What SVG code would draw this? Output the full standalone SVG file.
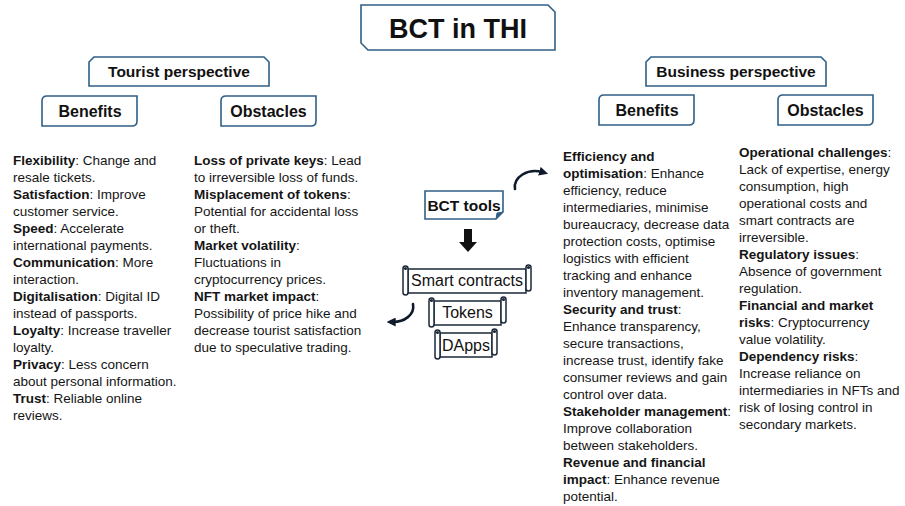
<svg xmlns="http://www.w3.org/2000/svg" width="905" height="506" viewBox="0 0 905 506">
  <defs>
    <style>
      .frame { fill: #ffffff; stroke: #2f5f86; stroke-width: 1.6; }
      .scroll { fill: #ffffff; stroke: #1b2838; stroke-width: 1.5; }
      .head { font-family: "Liberation Sans", Arial, sans-serif; font-weight: bold; fill: #111111; text-anchor: middle; }
      .tool { font-family: "Liberation Sans", Arial, sans-serif; fill: #111111; text-anchor: middle; font-size: 16px; }
      .body { font-family: "Liberation Sans", Arial, sans-serif; font-size: 13.5px; fill: #151515; }
      .b { font-weight: bold; }
      .curve { fill: none; stroke: #0f1b2a; stroke-width: 2.6; stroke-linecap: round; }
    </style>
    <marker id="tip" viewBox="0 0 10 10" refX="3" refY="5" markerWidth="9" markerHeight="9" markerUnits="userSpaceOnUse" orient="auto">
      <path d="M0,0 L10,5 L0,10 Z" fill="#0f1b2a"/>
    </marker>
  </defs>

  <!-- title -->
  <g id="title">
    <path class="frame" d="M361,5 H548 L555,12 V50 H368 L361,43 Z"/>
    <text class="head" x="458" y="37.5" font-size="27">BCT in THI</text>
  </g>

  <!-- tourist side headers -->
  <g id="tourist-perspective">
    <path class="frame" d="M94,57 H264 L269,62 V86 H89 V62 Z"/>
    <text class="head" x="179" y="77" font-size="15.5">Tourist perspective</text>
  </g>
  <g id="tourist-benefits">
    <path class="frame" d="M47,96 H137 V121 Q137,126 132,126 H42 V101 Q42,96 47,96 Z"/>
    <text class="head" x="90" y="117" font-size="16">Benefits</text>
  </g>
  <g id="tourist-obstacles">
    <path class="frame" d="M226,96 H316 V121 Q316,126 311,126 H221 V101 Q221,96 226,96 Z"/>
    <text class="head" x="268.5" y="117" font-size="16">Obstacles</text>
  </g>

  <!-- business side headers -->
  <g id="business-perspective">
    <path class="frame" d="M651,57 H821 L826,62 V86 H646 V62 Z"/>
    <text class="head" x="736" y="77" font-size="15.5">Business perspective</text>
  </g>
  <g id="business-benefits">
    <path class="frame" d="M604,95 H694 V120 Q694,125 689,125 H599 V100 Q599,95 604,95 Z"/>
    <text class="head" x="647" y="116" font-size="16">Benefits</text>
  </g>
  <g id="business-obstacles">
    <path class="frame" d="M783,95 H873 V120 Q873,125 868,125 H778 V100 Q778,95 783,95 Z"/>
    <text class="head" x="825.5" y="116" font-size="16">Obstacles</text>
  </g>

  <!-- central tools -->
  <g id="bct-tools">
    <path class="frame" d="M425,191 H503 V212 L496,219 H425 Z"/>
    <path d="M503,212 L497,213 L496,219 Z" fill="#2f5f86" stroke="#2f5f86" stroke-width="1"/>
    <text class="head" x="464" y="210.5" font-size="15.5">BCT tools</text>
  </g>

  <g id="smart-contracts">
    <rect class="scroll" x="408" y="269" width="118" height="24"/>
    <rect class="scroll" x="526" y="265" width="5" height="26" rx="2.5"/>
    <circle cx="528.5" cy="267.5" r="1.6" fill="#1b2838"/>
    <rect class="scroll" x="403" y="266" width="5" height="29" rx="2.5"/>
    <circle cx="405.5" cy="268.5" r="1.6" fill="#1b2838"/>
    <text class="tool" x="467" y="285.5">Smart contracts</text>
  </g>
  <g id="tokens">
    <rect class="scroll" x="434" y="301" width="67" height="24"/>
    <rect class="scroll" x="501" y="297" width="5" height="26" rx="2.5"/>
    <circle cx="503.5" cy="299.5" r="1.6" fill="#1b2838"/>
    <rect class="scroll" x="429" y="298" width="5" height="29" rx="2.5"/>
    <circle cx="431.5" cy="300.5" r="1.6" fill="#1b2838"/>
    <text class="tool" x="467.5" y="318">Tokens</text>
  </g>
  <g id="dapps">
    <rect class="scroll" x="440" y="333" width="52" height="24"/>
    <rect class="scroll" x="492" y="329" width="5" height="26" rx="2.5"/>
    <circle cx="494.5" cy="331.5" r="1.6" fill="#1b2838"/>
    <rect class="scroll" x="435" y="330" width="5" height="29" rx="2.5"/>
    <circle cx="437.5" cy="332.5" r="1.6" fill="#1b2838"/>
    <text class="tool" x="466" y="350.5">DApps</text>
  </g>

  <!-- connectors -->
  <g id="connectors">
    <path d="M464,229 H472 V242 H477 L468,252 L459,242 H464 Z" fill="#111111"/>
    <path class="curve" d="M515,189 C513,177 528,168 542,172" marker-end="url(#tip)"/>
    <path class="curve" d="M413,304 C415,315 404,322 393,322" marker-end="url(#tip)"/>
  </g>

  <!-- tourist benefits list -->
  <g id="tourist-benefits-list" class="body">
    <text x="13" y="165"><tspan class="b">Flexibility</tspan>: Change and</text>
    <text x="13" y="182">resale tickets.</text>
    <text x="13" y="199"><tspan class="b">Satisfaction</tspan>: Improve</text>
    <text x="13" y="216">customer service.</text>
    <text x="13" y="233"><tspan class="b">Speed</tspan>: Accelerate</text>
    <text x="13" y="250">international payments.</text>
    <text x="13" y="267"><tspan class="b">Communication</tspan>: More</text>
    <text x="13" y="284">interaction.</text>
    <text x="13" y="301"><tspan class="b">Digitalisation</tspan>: Digital ID</text>
    <text x="13" y="318">instead of passports.</text>
    <text x="13" y="335"><tspan class="b">Loyalty</tspan>: Increase traveller</text>
    <text x="13" y="352">loyalty.</text>
    <text x="13" y="369"><tspan class="b">Privacy</tspan>: Less concern</text>
    <text x="13" y="386">about personal information.</text>
    <text x="13" y="403"><tspan class="b">Trust</tspan>: Reliable online</text>
    <text x="13" y="420">reviews.</text>
  </g>

  <!-- tourist obstacles list -->
  <g id="tourist-obstacles-list" class="body">
    <text x="194" y="165"><tspan class="b">Loss of private keys</tspan>: Lead</text>
    <text x="194" y="182">to irreversible loss of funds.</text>
    <text x="194" y="199"><tspan class="b">Misplacement of tokens</tspan>:</text>
    <text x="194" y="216">Potential for accidental loss</text>
    <text x="194" y="233">or theft.</text>
    <text x="194" y="250"><tspan class="b">Market volatility</tspan>:</text>
    <text x="194" y="267">Fluctuations in</text>
    <text x="194" y="284">cryptocurrency prices.</text>
    <text x="194" y="301"><tspan class="b">NFT market impact</tspan>:</text>
    <text x="194" y="318">Possibility of price hike and</text>
    <text x="194" y="335">decrease tourist satisfaction</text>
    <text x="194" y="352">due to speculative trading.</text>
  </g>

  <!-- business benefits list -->
  <g id="business-benefits-list" class="body">
    <text x="563" y="161"><tspan class="b">Efficiency and</tspan></text>
    <text x="563" y="178"><tspan class="b">optimisation</tspan>: Enhance</text>
    <text x="563" y="195">efficiency, reduce</text>
    <text x="563" y="212">intermediaries, minimise</text>
    <text x="563" y="229">bureaucracy, decrease data</text>
    <text x="563" y="246">protection costs, optimise</text>
    <text x="563" y="263">logistics with efficient</text>
    <text x="563" y="280">tracking and enhance</text>
    <text x="563" y="297">inventory management.</text>
    <text x="563" y="314"><tspan class="b">Security and trust</tspan>:</text>
    <text x="563" y="331">Enhance transparency,</text>
    <text x="563" y="348">secure transactions,</text>
    <text x="563" y="365">increase trust, identify fake</text>
    <text x="563" y="382">consumer reviews and gain</text>
    <text x="563" y="399">control over data.</text>
    <text x="563" y="416"><tspan class="b">Stakeholder management</tspan>:</text>
    <text x="563" y="433">Improve collaboration</text>
    <text x="563" y="450">between stakeholders.</text>
    <text x="563" y="467"><tspan class="b">Revenue and financial</tspan></text>
    <text x="563" y="484"><tspan class="b">impact</tspan>: Enhance revenue</text>
    <text x="563" y="501">potential.</text>
  </g>

  <!-- business obstacles list -->
  <g id="business-obstacles-list" class="body">
    <text x="739" y="157"><tspan class="b">Operational challenges</tspan>:</text>
    <text x="739" y="174">Lack of expertise, energy</text>
    <text x="739" y="191">consumption, high</text>
    <text x="739" y="208">operational costs and</text>
    <text x="739" y="225">smart contracts are</text>
    <text x="739" y="242">irreversible.</text>
    <text x="739" y="259"><tspan class="b">Regulatory issues</tspan>:</text>
    <text x="739" y="276">Absence of government</text>
    <text x="739" y="293">regulation.</text>
    <text x="739" y="310"><tspan class="b">Financial and market</tspan></text>
    <text x="739" y="327"><tspan class="b">risks</tspan>: Cryptocurrency</text>
    <text x="739" y="344">value volatility.</text>
    <text x="739" y="361"><tspan class="b">Dependency risks</tspan>:</text>
    <text x="739" y="378">Increase reliance on</text>
    <text x="739" y="395">intermediaries in NFTs and</text>
    <text x="739" y="412">risk of losing control in</text>
    <text x="739" y="429">secondary markets.</text>
  </g>
</svg>
